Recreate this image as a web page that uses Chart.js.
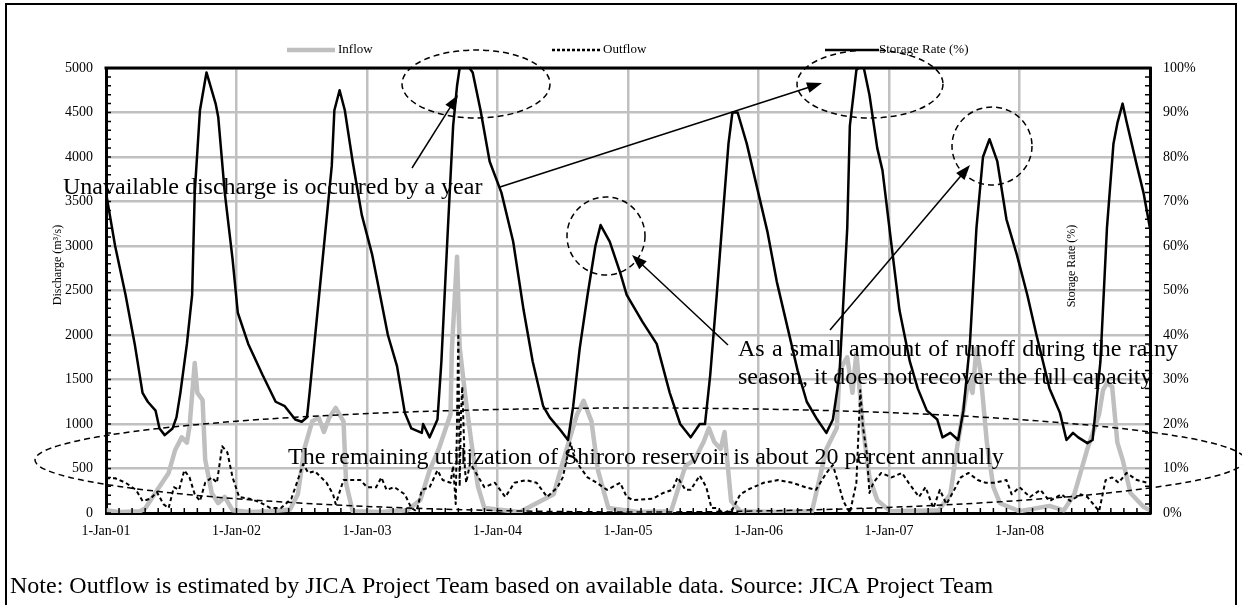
<!DOCTYPE html>
<html>
<head>
<meta charset="utf-8">
<script src="https://cdn.jsdelivr.net/npm/chart.js@4.4.0/dist/chart.umd.min.js"></script>
<style>
  html, body { margin: 0; padding: 0; background: #fff; }
</style>
</head>
<body>
<canvas id="shiroroChart" width="1242" height="605"></canvas>
<script>
// x values are years since 1-Jan-2001
const xLabels = ['1-Jan-01', '1-Jan-02', '1-Jan-03', '1-Jan-04', '1-Jan-05', '1-Jan-06', '1-Jan-07', '1-Jan-08'];

// Storage rate (%), right axis
const storageT = [0.00,0.07,0.15,0.22,0.28,0.32,0.38,0.41,0.45,0.51,0.54,0.57,0.62,0.66,0.68,0.72,0.77,0.84,0.86,0.91,
  0.97,1.01,1.09,1.20,1.30,1.37,1.45,1.50,1.54,1.56,1.60,1.66,1.73,1.75,1.79,1.83,1.89,1.96,2.04,2.08,
  2.16,2.23,2.29,2.34,2.42,2.43,2.48,2.54,2.57,2.62,2.66,2.69,2.71,2.76,2.81,2.87,2.94,3.03,3.12,3.20,
  3.27,3.35,3.40,3.48,3.54,3.58,3.63,3.69,3.75,3.79,3.86,3.94,3.99,4.11,4.22,4.32,4.40,4.48,4.55,4.59,
  4.63,4.68,4.73,4.77,4.80,4.84,4.91,4.99,5.07,5.14,5.22,5.30,5.37,5.45,5.52,5.57,5.62,5.68,5.70,5.75,
  5.80,5.85,5.91,5.95,6.02,6.08,6.16,6.22,6.29,6.37,6.41,6.47,6.53,6.57,6.62,6.67,6.72,6.77,6.83,6.90,
  6.98,7.06,7.13,7.23,7.31,7.36,7.41,7.45,7.52,7.56,7.62,7.67,7.72,7.75,7.79,7.82,7.90,7.95,8.00];
const storageV = [72,60,49,38,27,25,23,19,17.5,19,21.5,27,38,49,72,90.5,99,92,89,72,
  57,45,38,31,25,24,21,20.5,21.5,27,39,57,78,90.5,95,90.5,79,67,58,52,
  40,33,22.5,19,18,20,17,21,34,64,87,96,100,101,99,90.5,79,72,61,45.6,
  34,24,21.5,18.7,16.4,24,37,49,60,64.7,61,54,49,43,38,27,20,17,20,20,
  31,49,68,83,90,90,83,73,63,52,42,32,25,21,18,21,31,64,87,99.5,
  101,94,82,77,60,45.6,34,28,23,21,17,18,16.4,23,38,64,80,84,79,66,
  58,49,40,28,22.5,16.4,18,17,15.7,16.4,34,64,83,87.6,92,88,78,72,64];

// Inflow (m3/s), left axis
const inflowT = [0.00,0.11,0.26,0.30,0.38,0.48,0.53,0.58,0.62,0.64,0.68,0.70,0.74,0.76,0.81,0.86,0.91,0.97,1.10,1.26,
  1.41,1.47,1.52,1.58,1.63,1.67,1.71,1.76,1.82,1.84,1.89,2.10,2.31,2.41,2.48,2.55,2.64,2.65,2.69,2.71,
  2.75,2.80,2.85,2.90,3.17,3.43,3.53,3.61,3.66,3.72,3.77,3.85,4.09,4.33,4.44,4.51,4.58,4.62,4.66,4.71,
  4.74,4.79,4.86,5.16,5.41,5.44,5.52,5.60,5.62,5.68,5.72,5.75,5.80,5.85,5.91,6.01,6.38,6.47,6.52,6.61,
  6.64,6.67,6.70,6.75,6.80,6.85,7.00,7.23,7.34,7.42,7.52,7.61,7.64,7.67,7.71,7.75,7.79,7.85,7.95,8.00];
const inflowV = [30,10,20,50,230,450,708,850,790,970,1685,1350,1270,600,225,110,180,30,10,20,
  40,210,720,1030,1070,910,1070,1180,1030,330,20,10,30,150,480,720,1110,1830,2880,1865,
  1350,790,300,55,10,210,720,1110,1260,1030,480,55,10,20,530,600,800,955,800,720,
  910,135,20,10,20,210,720,955,1600,1750,1350,1800,970,400,145,20,30,210,720,1500,
  1350,1850,1600,790,290,110,20,80,30,210,720,1110,1380,1460,1420,790,600,225,70,30];

// Outflow (m3/s), left axis
const outflowT = [0.00,0.07,0.15,0.23,0.28,0.34,0.39,0.44,0.48,0.52,0.56,0.60,0.64,0.68,0.72,0.76,0.81,0.85,0.89,0.93,
  0.97,1.02,1.10,1.18,1.26,1.34,1.42,1.47,1.51,1.55,1.60,1.69,1.74,1.76,1.82,1.87,1.95,2.00,2.07,2.11,
  2.15,2.21,2.29,2.34,2.38,2.42,2.48,2.54,2.58,2.64,2.66,2.68,2.70,2.71,2.72,2.73,2.75,2.76,2.79,2.90,
  2.98,3.06,3.13,3.22,3.30,3.38,3.46,3.50,3.53,3.56,3.58,3.63,3.69,3.76,3.84,3.94,3.99,4.04,4.19,4.27,
  4.34,4.38,4.44,4.48,4.55,4.60,4.64,4.68,4.73,4.80,4.86,4.93,5.04,5.15,5.26,5.36,5.44,5.52,5.57,5.61,
  5.65,5.70,5.75,5.78,5.80,5.83,5.85,5.88,5.94,6.02,6.10,6.15,6.23,6.28,6.34,6.39,6.44,6.50,6.55,6.61,
  6.68,6.74,6.81,6.90,6.94,7.00,7.08,7.16,7.23,7.32,7.39,7.47,7.52,7.61,7.66,7.71,7.76,7.82,7.90,7.98,8.00];
const outflowV = [390,390,340,260,135,160,235,100,55,290,260,480,400,210,135,340,400,340,750,680,
  400,180,160,120,55,55,160,370,550,450,470,340,210,100,370,370,370,290,290,400,
  260,290,210,55,20,260,290,480,370,340,530,100,2020,300,1110,1420,500,340,560,290,
  340,180,340,370,340,180,290,400,600,790,670,520,400,340,260,340,180,145,160,225,
  260,400,260,260,420,290,55,55,0,40,210,270,340,370,340,290,260,450,540,340,
  135,0,340,1380,970,670,225,340,450,400,450,340,180,290,55,260,100,260,400,450,
  370,340,340,370,210,290,180,260,135,210,135,210,180,20,370,400,340,450,370,340,340];

const toPoints = (t, v) => t.map((x, i) => ({ x: x, y: v[i] }));

const SERIF = '"Liberation Serif", "Times New Roman", serif';
Chart.defaults.font.family = SERIF;
Chart.defaults.color = '#000';

function arrow(ctx, x1, y1, x2, y2) {
  const a = Math.atan2(y2 - y1, x2 - x1);
  const len = 15, half = 5.5;
  ctx.beginPath();
  ctx.moveTo(x1, y1);
  ctx.lineTo(x2 - Math.cos(a) * len * 0.8, y2 - Math.sin(a) * len * 0.8);
  ctx.stroke();
  ctx.beginPath();
  ctx.moveTo(x2, y2);
  ctx.lineTo(x2 - len * Math.cos(a) + half * Math.sin(a), y2 - len * Math.sin(a) - half * Math.cos(a));
  ctx.lineTo(x2 - len * Math.cos(a) - half * Math.sin(a), y2 - len * Math.sin(a) + half * Math.cos(a));
  ctx.closePath();
  ctx.fill();
}

function ellipse(ctx, cx, cy, rx, ry) {
  ctx.beginPath();
  ctx.ellipse(cx, cy, rx, ry, 0, 0, Math.PI * 2);
  ctx.stroke();
}

function justify(ctx, text, x, y, width) {
  const words = text.split(' ');
  const total = words.reduce((s, w) => s + ctx.measureText(w).width, 0);
  const gap = (width - total) / (words.length - 1);
  let cx = x;
  words.forEach(w => { ctx.fillText(w, cx, y); cx += ctx.measureText(w).width + gap; });
}

const overlay = {
  id: 'overlay',
  beforeDraw(chart) {
    const ctx = chart.ctx;
    ctx.save();
    ctx.fillStyle = '#fff';
    ctx.fillRect(0, 0, chart.width, chart.height);
    ctx.restore();
  },
  afterDraw(chart) {
    const ctx = chart.ctx;
    const a = chart.chartArea;
    const sx = chart.scales.x, sy = chart.scales.y, sy2 = chart.scales.y2;
    ctx.save();

    // plot frame (top edge) and small inside ticks
    ctx.strokeStyle = '#000';
    ctx.lineWidth = 3;
    ctx.beginPath();
    ctx.moveTo(a.left - 1.5, a.top);
    ctx.lineTo(a.right + 1.5, a.top);
    ctx.stroke();
    ctx.lineWidth = 1.5;
    ctx.beginPath();
    for (let v = 0; v <= 5000; v += 100) {
      const y = sy.getPixelForValue(v);
      ctx.moveTo(a.left, y); ctx.lineTo(a.left + 5, y);
    }
    for (let p = 0; p <= 100; p += 2) {
      const y = sy2.getPixelForValue(p);
      ctx.moveTo(a.right - 5, y); ctx.lineTo(a.right, y);
    }
    for (let i = 0; i <= 80; i++) {
      const x = sx.getPixelForValue(i / 10);
      ctx.moveTo(x, a.bottom); ctx.lineTo(x, a.bottom - 5);
    }
    ctx.stroke();

    // axis titles
    ctx.fillStyle = '#000';
    ctx.font = '12px ' + SERIF;
    ctx.textAlign = 'center';
    ctx.textBaseline = 'middle';
    ctx.save();
    ctx.translate(58, 265);
    ctx.rotate(-Math.PI / 2);
    ctx.fillText('Discharge (m\u00b3/s)', 0, 0);
    ctx.restore();
    ctx.save();
    ctx.translate(1072, 266);
    ctx.rotate(-Math.PI / 2);
    ctx.fillText('Storage Rate (%)', 0, 0);
    ctx.restore();

    // legend
    const ly = 50;
    ctx.font = '13px ' + SERIF;
    ctx.textAlign = 'left';
    ctx.lineCap = 'butt';
    ctx.strokeStyle = '#bfbfbf';
    ctx.lineWidth = 4.5;
    ctx.beginPath(); ctx.moveTo(287, ly); ctx.lineTo(335, ly); ctx.stroke();
    ctx.fillText('Inflow', 338, ly);
    ctx.strokeStyle = '#000';
    ctx.lineWidth = 2.5;
    ctx.setLineDash([3, 2]);
    ctx.beginPath(); ctx.moveTo(552, ly); ctx.lineTo(600, ly); ctx.stroke();
    ctx.setLineDash([]);
    ctx.fillText('Outflow', 603, ly);
    ctx.beginPath(); ctx.moveTo(825, ly); ctx.lineTo(879, ly); ctx.stroke();
    ctx.fillText('Storage Rate (%)', 879, ly);

    // dashed circles and ellipses
    ctx.lineWidth = 1.5;
    ctx.setLineDash([6, 4]);
    ellipse(ctx, 476, 84, 74, 34);
    ellipse(ctx, 870, 84, 73, 34);
    ellipse(ctx, 606, 236, 39, 39);
    ellipse(ctx, 992, 146, 40, 39);
    ellipse(ctx, 640, 460, 605, 52);
    ctx.setLineDash([]);

    // arrows
    ctx.fillStyle = '#000';
    ctx.lineWidth = 1.5;
    arrow(ctx, 412, 168, 458, 95);
    arrow(ctx, 500, 187, 822, 83);
    arrow(ctx, 728, 345, 632, 255);
    arrow(ctx, 830, 330, 970, 165);

    // annotation texts
    ctx.font = '24px ' + SERIF;
    ctx.textAlign = 'left';
    ctx.textBaseline = 'middle';
    ctx.fillText('Unavailable discharge is occurred by a year', 63, 188);
    justify(ctx, 'As a small amount of runoff during the rainy', 738, 350, 440);
    ctx.fillText('season, it does not recover the full capacity', 738, 378);
    ctx.fillText('The remaining utilization of Shiroro reservoir is about 20 percent annually', 288, 458);

    // note
    ctx.font = '24px ' + SERIF;
    ctx.fillText('Note: Outflow is estimated by JICA Project Team based on available data. Source: JICA Project Team', 10, 587);

    // outer frame
    ctx.lineWidth = 2;
    ctx.strokeRect(6, 4, 1230, 700);
    ctx.restore();
  }
};

const axisBorder = { display: true, color: '#000', width: 3 };
const gridStyle = { color: '#c0c0c0', lineWidth: 2.5, drawTicks: false };
const tickFont = { family: SERIF, size: 14 };

new Chart(document.getElementById('shiroroChart'), {
  type: 'line',
  data: {
    datasets: [
      {
        label: 'Inflow',
        data: toPoints(inflowT, inflowV),
        borderColor: '#bfbfbf',
        borderWidth: 4.5,
        yAxisID: 'y',
        order: 3
      },
      {
        label: 'Outflow',
        data: toPoints(outflowT, outflowV),
        borderColor: '#000',
        borderWidth: 2,
        borderDash: [4, 3],
        yAxisID: 'y',
        order: 2
      },
      {
        label: 'Storage Rate (%)',
        data: toPoints(storageT, storageV),
        borderColor: '#000',
        borderWidth: 2.5,
        yAxisID: 'y2',
        order: 1
      }
    ]
  },
  options: {
    responsive: false,
    animation: false,
    devicePixelRatio: 1,
    layout: { padding: { top: 68, left: 0, right: 0, bottom: 0 } },
    elements: {
      point: { radius: 0, hoverRadius: 0 },
      line: { tension: 0, borderJoinStyle: 'round' }
    },
    plugins: {
      legend: { display: false },
      tooltip: { enabled: false }
    },
    scales: {
      x: {
        type: 'linear',
        min: 0,
        max: 8,
        grid: gridStyle,
        border: axisBorder,
        ticks: {
          stepSize: 1,
          autoSkip: false,
          maxRotation: 0,
          padding: 10,
          font: tickFont,
          color: '#000',
          callback: (v) => xLabels[v] || ''
        },
        afterFit: (s) => { s.height = 92; }
      },
      y: {
        min: 0,
        max: 5000,
        grid: gridStyle,
        border: axisBorder,
        ticks: { stepSize: 500, padding: 13, font: tickFont, color: '#000', callback: (v) => String(v) },
        afterFit: (s) => { s.width = 106; }
      },
      y2: {
        position: 'right',
        min: 0,
        max: 100,
        grid: { display: false, drawTicks: false },
        border: axisBorder,
        ticks: { stepSize: 10, padding: 13, font: tickFont, color: '#000', callback: (v) => v + '%' },
        afterFit: (s) => { s.width = 92; }
      }
    }
  },
  plugins: [overlay]
});
</script>
</body>
</html>
